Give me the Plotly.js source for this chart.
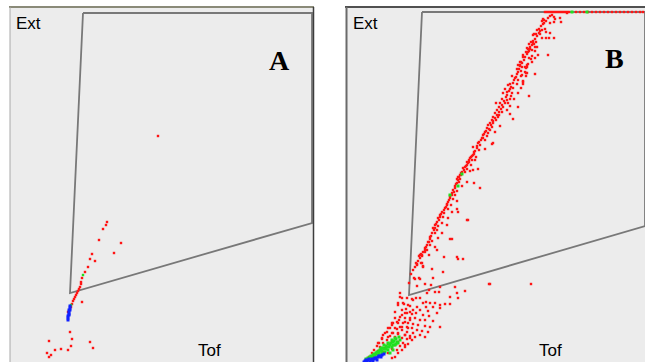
<!DOCTYPE html>
<html>
<head>
<meta charset="utf-8">
<script src="https://cdn.plot.ly/plotly-3.0.1.min.js"></script>
<style>html,body{margin:0;padding:0;background:#fff;}#chart{width:645px;height:362px;}</style>
</head>
<body>
<div id="chart"></div>
<script>
// ---- Panel A (Tof, Ext) ----
const gateA_tof = [73, 302, 302, 60, 73];
const gateA_ext = [349, 349, 139, 69, 349];
const aRed = [[148,226],[97,140],[96,137],[93,133],[89,122],[111,119],[104,109],[82,108],[80,103],[85,101],[78,95],[75,90],[72,84],[71,80],[71,78],[70,75],[69,73],[68,71],[67,69],[66,67],[65,65],[64,63],[72,60],[63,61],[62,58],[61,55],[58,50],[60,30],[62,23],[39,21],[80,20],[61,16],[83,14],[51,13],[45,12],[58,12],[37,9],[41,7],[39,5]];
const aGreen = [[73,87],[61,57]];
const aBlue = [[60,56],[60,54],[59,52],[59,50],[59,48],[58,46],[58,44],[58,42],[60,52],[59,47]];

// ---- Panel B (Tof, Ext) ----
const gateB_tof = [76, 299, 299, 63, 76];
const gateB_ext = [350, 350, 136, 67, 350];
const bTopTof = [199,201,203,205,207,209,211,213,215,217,219,221,223,230,234,238,242,246,250,254,258,262,266,270,274,278,282,286,290,294,297];
const bRed = [
[204,346],[208,345],[214,344],[209,343],[221,349],[197,343],[198,342],[196,341],[208,340],[215,340],[204,339],[197,338],[193,333],[191,332],[199,333],[196,332],[200,330],[204,329],[188,328],[187,327],[190,328],[194,328],[200,324],[203,324],[208,324],[196,324],[187,321],[190,320],[185,320],[183,318],[188,318],[184,315],[189,315],[191,315],[181,314],[182,313],[186,312],[189,311],[180,310],[182,310],[177,307],[177,305],[186,306],[183,304],[192,307],[202,307],[185,303],[189,304],[175,300],[174,297],[182,298],[181,295],[180,294],[175,291],[179,290],[180,289],[189,288],[175,286],[180,286],[177,280],[175,274],[183,266],
[167,243],[146,218],[134,174],[121,142],[143,78],[185,78],[117,103],[112,103],[98,105],[104,123],
[174,300],[186,300],[172,297],[181,297],[176,295],[171,293],[179,295],[181,289],[176,287],[171,288],[166,286],[169,284],[172,282],[177,281],[164,278],[162,277],[171,278],[177,278],[159,273],[164,273],[167,274],[157,269],[161,270],[166,269],[172,269],[165,266],[156,263],[161,262],[164,263],[168,263],[154,259],[159,259],[162,259],[150,259],[153,255],[157,255],[164,256],[172,255],[151,252],[156,250],[161,252],[149,249],[153,247],[164,248],[147,245],[152,245],[146,242],[150,242],[144,239],[147,239],[142,237],[146,235],[154,236],[141,234],[144,232],[139,230],[142,229],[149,230],[137,227],[141,226],[136,224],[139,222],[147,219],[133,220],[134,217],[131,214],[133,212],[139,213],[127,215],[128,210],[127,207],[130,205],[125,205],[123,202],[126,202],[129,202],[121,200],[122,199],[125,197],[120,196],[117,194],[121,193],[127,192],[132,193],[116,190],[119,190],[115,187],[112,185],[111,183],
[114,187],[124,191],[113,185],[112,182],[121,180],[128,179],[111,179],[109,176],[116,176],[107,172],[111,171],[106,169],[109,167],[104,164],[107,163],[102,160],[111,161],[101,157],[105,157],[99,154],[102,153],[111,153],[112,150],[96,150],[98,149],[106,150],[94,147],[97,145],[92,144],[102,144],[91,140],[96,139],[122,142],[89,137],[92,136],[101,137],[87,134],[91,132],[86,129],[89,129],[96,129],[84,125],[92,124],[106,123],[82,120],[86,121],[81,117],[84,117],[79,114],[89,115],[81,112],[91,112],[77,110],[74,107],[76,106],[111,105],[72,101],[76,99],[71,97],[77,95],[86,93],[67,92],[97,90],[68,84],[73,84],[87,84],
[119,71],[144,78],
[73,106],[76,107],[79,110],[83,107],[71,98],[75,99],[77,96],[65,88],[69,83],[74,83],[71,76],[79,78],[85,77],[94,75],[109,75],[83,72],[89,70],[81,69],[93,70],[63,79],[111,69],[104,65],[112,64],[54,69],[56,64],[66,63],[70,64],[74,64],[80,60],[84,59],[89,59],[94,57],[99,58],[104,58],[77,59],[52,59],[58,58],[64,56],[71,55],[80,55],[87,55],[94,54],[60,53],[67,52],[74,52],[82,51],[91,49],[61,49],[66,48],[70,49],[77,47],[83,46],[56,47],[59,44],[64,44],[69,44],[74,42],[79,42],[87,41],[53,42],[51,40],[57,39],[62,39],[67,38],[72,37],[79,36],[84,35],[94,35],[47,39],[46,37],[54,35],[61,35],[66,34],[71,32],[76,31],[82,30],[44,34],[51,33],[56,32],[61,30],[67,29],[74,27],[79,25],[41,30],[47,29],[52,28],[59,27],[64,26],[69,25],[37,27],[44,26],[49,25],[56,24],[61,23],[66,22],[36,23],[41,22],[46,21],[52,20],[57,19],[62,18],[33,19],[37,19],[42,18],[49,17],[54,16],[59,15],[31,16],[34,15],[39,14],[46,13],[51,12],[28,12],[32,11],[37,10],[42,9],[26,9],[30,8],[36,7],[23,5],[27,5],[32,5],[21,3],[26,2],[19,0],
[54,65],[61,64],[62,57],[57,59],[67,62],[52,57],[56,52],[59,49],[64,50],[49,50],[54,45],[49,44],[46,39],[52,39],[59,40],[64,42],[42,34],[49,34],[56,35],[62,34],[39,29],[46,29],[52,29],[59,27],[36,24],[42,25],[64,24],[32,19],[59,17],[56,12],[52,9],[49,5],[46,4]
];
// dense ridge of the B cloud
const bRidge = [[69,95],[70,99],[74,104],[75,108],[79,112],[80,115],[83,120],[84,123],[85,126],[88,132],[89,134],[90,138],[93,142],[94,145],[95,148],[98,152],[100,155],[101,158],[103,162],[104,166],[106,167],[108,170],[109,174],[110,178],[113,180],[114,183],[115,189],[118,192],[119,195],[121,197],[123,200],[124,204],[126,206],[128,208],[129,211],[131,216],[132,219],[135,222],[137,224],[138,228],[140,231],[143,233],[145,237],[147,241],[149,244],[151,247],[153,250],[155,253],[156,257],[158,261],[160,265],[161,267],[163,271],[165,275],[167,279],[168,282],[170,285],[172,290],[173,293],[174,296],[176,299],[178,302],[179,305],[181,308],[183,311],[184,313],[186,317],[187,319],[189,323],[191,326],[193,329],[194,331],[195,336],[198,339],[200,341],[202,344],[206,347]];
const bGreen = [[49,24],[47,20],[44,17],[41,15],[37,14],[34,12],[31,10],[27,7],[24,5],[46,15],[42,12],[39,10],[36,9],[32,7],[29,4],[49,17],[51,20],[46,22],[42,19],[38,17],[35,14],[52,19],[54,22],[47,12],[44,9],
[20,3],[22,4],[25,6],[28,8],[30,9],[33,11],[35,12],[38,13],[40,16],[43,18],[45,19],[48,21],[50,23],[53,25],[26,5],[29,7],[33,9],[36,11],[40,13],[43,15],[47,17],[50,18],
[116,188],[112,176],[104,167],[226,350],[241,350]];
const bBlue = [[32,5],[29,4],[26,3],[22,2],[19,1],[36,7],[31,2],[27,1],[24,0],[34,6],[18,0],[21,1],[23,3],[25,2],[28,3],[30,4],[33,6],[35,5],[20,2],[38,8]];

const W = 645, H = 362;
const px = v => v / W, py = v => 1 - v / H;

function pts(arr, xa, ya, color, size) {
  return {type:'scatter', mode:'markers', x: arr.map(p=>p[0]), y: arr.map(p=>p[1]),
    xaxis: xa, yaxis: ya, hoverinfo:'skip', showlegend:false,
    marker:{symbol:'square', size:size, color:color, line:{width:0}}};
}
function gate(xs, ys, xa, ya) {
  return {type:'scatter', mode:'lines', x: xs, y: ys, xaxis: xa, yaxis: ya,
    hoverinfo:'skip', showlegend:false, line:{color:'#787878', width:1.8}};
}

const traces = [
  gate(gateA_tof, gateA_ext, 'x', 'y'),
  pts(aRed, 'x', 'y', '#ff1414', 2.4),
  pts(aGreen, 'x', 'y', '#20e020', 2.4),
  pts(aBlue, 'x', 'y', '#1020ff', 3),
  gate(gateB_tof, gateB_ext, 'x2', 'y2'),
  pts(bTopTof.map(t=>[t,350]), 'x2', 'y2', '#ff1414', 2.4),
  pts(bRed, 'x2', 'y2', '#ff1414', 2.4),
  pts(bRidge, 'x2', 'y2', '#ff1414', 2.4),
  pts(bGreen, 'x2', 'y2', '#20e020', 3),
  pts(bBlue, 'x2', 'y2', '#1020ff', 3)
];

const ax = {showgrid:false, zeroline:false, showticklabels:false, ticks:'', showline:false, fixedrange:true};
const layout = {
  width: W, height: H,
  margin:{l:0, r:0, t:0, b:0, pad:0},
  paper_bgcolor:'#ffffff', plot_bgcolor:'#ececec',
  showlegend:false,
  xaxis: Object.assign({}, ax, {domain:[px(10), px(313)], range:[0, 303]}),
  yaxis: Object.assign({}, ax, {domain:[0, py(7)], range:[0, 355]}),
  xaxis2: Object.assign({}, ax, {domain:[px(346), 1], range:[0, 299], anchor:'y2'}),
  yaxis2: Object.assign({}, ax, {domain:[0, py(7)], range:[0, 355], anchor:'x2'}),
  shapes: [
    {type:'line', xref:'paper', yref:'paper', x0:px(9), x1:px(314), y0:py(7), y1:py(7), line:{color:'#8a8a78', width:2}},
    {type:'line', xref:'paper', yref:'paper', x0:px(10), x1:px(10), y0:py(7), y1:0, line:{color:'#a8a8a8', width:1}},
    {type:'line', xref:'paper', yref:'paper', x0:px(313.5), x1:px(313.5), y0:py(7), y1:0, line:{color:'#3c3c3c', width:1.5}},
    {type:'line', xref:'paper', yref:'paper', x0:px(345), x1:1, y0:py(7), y1:py(7), line:{color:'#505050', width:2}},
    {type:'line', xref:'paper', yref:'paper', x0:px(346.5), x1:px(346.5), y0:py(7), y1:0, line:{color:'#6a6a6a', width:2}}
  ],
  annotations: [
    {text:'Ext', xref:'paper', yref:'paper', x:px(28.5), y:py(23), xanchor:'center', yanchor:'middle', showarrow:false, font:{family:'Liberation Sans, Arial, sans-serif', size:17, color:'#000'}},
    {text:'Tof', xref:'paper', yref:'paper', x:px(209.5), y:py(350), xanchor:'center', yanchor:'middle', showarrow:false, font:{family:'Liberation Sans, Arial, sans-serif', size:17, color:'#000'}},
    {text:'Ext', xref:'paper', yref:'paper', x:px(365.5), y:py(23), xanchor:'center', yanchor:'middle', showarrow:false, font:{family:'Liberation Sans, Arial, sans-serif', size:17, color:'#000'}},
    {text:'Tof', xref:'paper', yref:'paper', x:px(550), y:py(350), xanchor:'center', yanchor:'middle', showarrow:false, font:{family:'Liberation Sans, Arial, sans-serif', size:17, color:'#000'}},
    {text:'<b>A</b>', xref:'paper', yref:'paper', x:px(279), y:py(60), xanchor:'center', yanchor:'middle', showarrow:false, font:{family:'Liberation Serif, Times New Roman, serif', size:28, color:'#000'}},
    {text:'<b>B</b>', xref:'paper', yref:'paper', x:px(614), y:py(59), xanchor:'center', yanchor:'middle', showarrow:false, font:{family:'Liberation Serif, Times New Roman, serif', size:28, color:'#000'}}
  ]
};
Plotly.newPlot('chart', traces, layout, {staticPlot:true, displayModeBar:false});
</script>
</body>
</html>
